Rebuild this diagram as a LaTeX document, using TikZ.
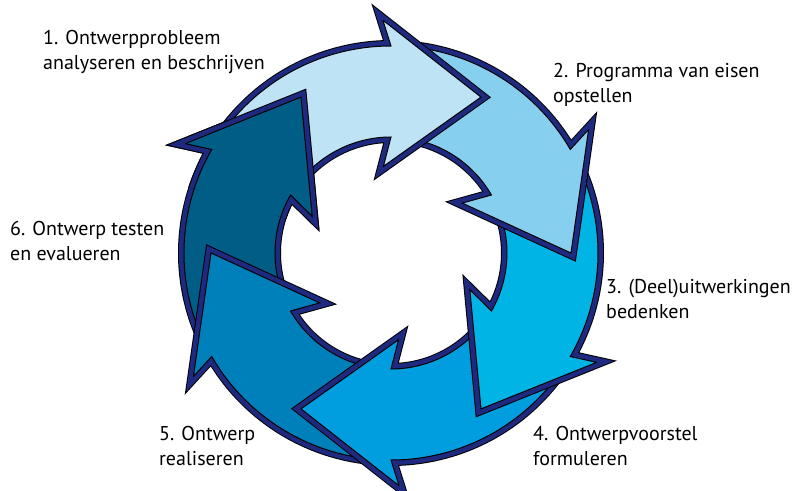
\documentclass[tikz,border=0pt]{standalone}
\usepackage{fontspec}
\setmainfont{PT Sans}
\usepackage{tikz}

\definecolor{ringnavy}{HTML}{1E2A80}
\definecolor{arrowone}{HTML}{BDE3F5}
\definecolor{arrowtwo}{HTML}{87CFEE}
\definecolor{arrowthree}{HTML}{00B4E5}
\definecolor{arrowfour}{HTML}{009EDF}
\definecolor{arrowfive}{HTML}{0080BA}
\definecolor{arrowsix}{HTML}{005E86}

% one bent arrow of the ring, #1 = angle of its tip
\newcommand{\ringarrowpath}[1]{%
  (#1+85:207) arc[start angle=#1+85, end angle=#1+30, radius=207pt]
  -- (#1+32:233) -- (#1:180) -- (#1+35:87) -- (#1+30:116)
  arc[start angle=#1+30, end angle=#1+85, radius=116pt] -- cycle}

\begin{document}
\begin{tikzpicture}[
  x=1pt, y=1pt,
  ringarrow/.style={
    preaction={draw=black, line width=12pt},
    preaction={draw=ringnavy, line width=10pt},
    fill=#1,
    draw=black,
    line width=1pt,
    miter limit=3
    },
  steplabel/.style={
    anchor=base west,
    inner sep=0pt,
    align=left,
    font=\fontsize{20}{25}\selectfont
    }
]
\useasboundingbox (-391,-237) rectangle (412,253);

\foreach \tip/\col in {120/arrowsix, 180/arrowfive, -120/arrowfour,
                       -60/arrowthree, 0/arrowtwo, 60/arrowone}
  \path[ringarrow=\col] \ringarrowpath{\tip};

% head of the sixth arrow lies over the tail of the first
\begin{scope}
  \clip (0,0) -- (114:280) arc[start angle=114, end angle=162, radius=280pt] -- cycle;
  \path[ringarrow=arrowsix] \ringarrowpath{120};
\end{scope}

\node[steplabel] (analyse) at (-348,183) {1. Ontwerpprobleem\\analyseren en beschrijven};
\node[steplabel] (eisen) at (162,150) {2. Programma van eisen\\opstellen};
\node[steplabel] (uitwerking) at (215,-65) {3. (Deel)uitwerkingen\\bedenken};
\node[steplabel] (voorstel) at (142,-212) {4. Ontwerpvoorstel\\formuleren};
\node[steplabel] (realisatie) at (-232,-212) {5. Ontwerp\\realiseren};
\node[steplabel] (evaluatie) at (-381,-7) {6. Ontwerp testen\\en evalueren};

\end{tikzpicture}
\end{document}
